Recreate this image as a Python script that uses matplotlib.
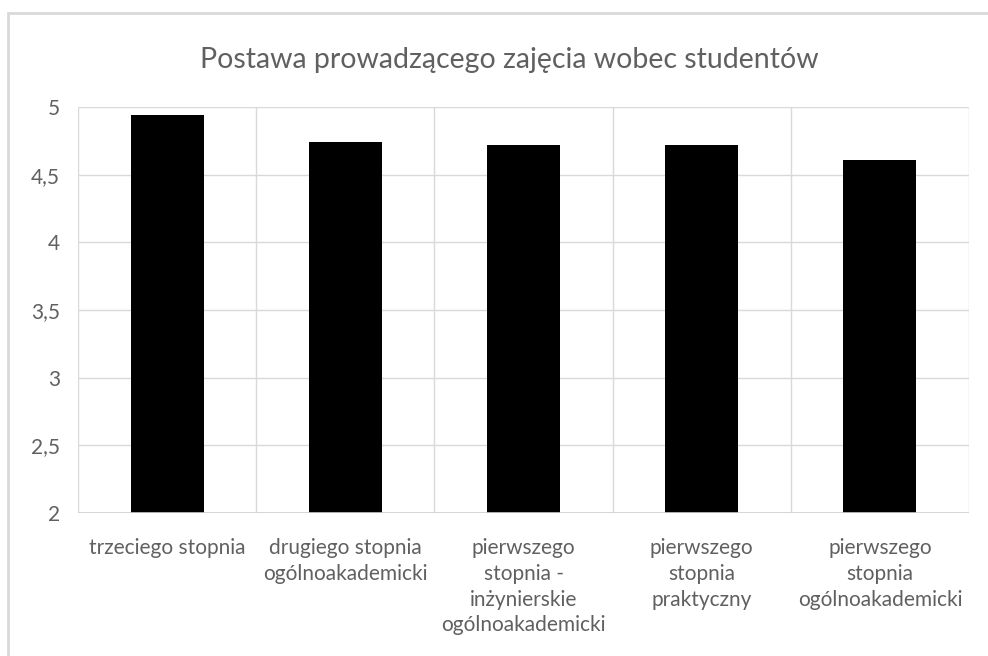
import matplotlib
matplotlib.use("Agg")
import matplotlib.pyplot as plt
from matplotlib.patches import Rectangle

categories = ["trzeciego stopnia",
              "drugiego stopnia\nogólnoakademicki",
              "pierwszego\nstopnia -\ninżynierskie\nogólnoakademicki",
              "pierwszego\nstopnia\npraktyczny",
              "pierwszego\nstopnia\nogólnoakademicki"]
values = [4.94, 4.74, 4.72, 4.72, 4.61]
yticks = [2, 2.5, 3, 3.5, 4, 4.5, 5]
ytick_labels = ["2", "2,5", "3", "3,5", "4", "4,5", "5"]
title = "Postawa prowadzącego zajęcia wobec studentów"

plt.rcParams['font.family'] = ['Lato', 'DejaVu Sans']

W, H = 988, 656
fig = plt.figure(figsize=(W/100, H/100), dpi=100)
# chart border
fig.patches.append(Rectangle((8/W, -0.1), 1.2, (H-13)/H + 0.1, transform=fig.transFigure,
                             fill=False, edgecolor="#d9d9d9", linewidth=2))

left, right, top, bottom = 78, 969, 107, 513
ax = fig.add_axes([left/W, 1-bottom/H, (right-left)/W, (bottom-top)/H])
x = list(range(len(categories)))
ax.bar(x, values, width=0.41, color="black", zorder=3)
ax.set_xlim(-0.5, len(categories)-0.5)
ax.set_ylim(2, 5)
ax.set_yticks(yticks)
ax.set_yticklabels(ytick_labels)
ax.set_xticks(x)
ax.set_xticklabels(categories, linespacing=1.36)
for b in [i + 0.5 for i in range(-1, len(categories))]:
    ax.axvline(b, color="#d9d9d9", linewidth=1, zorder=1)
ax.grid(axis="y", color="#d9d9d9", linewidth=1, zorder=1)
for s in ax.spines.values():
    s.set_visible(False)
ax.axhline(2, color="#d0d0d0", linewidth=1.2, zorder=4)
ax.tick_params(axis="both", length=0, colors="#606060", labelsize=15)
ax.tick_params(axis="y", pad=13)
ax.tick_params(axis="x", pad=18)
fig.text(509/W, 1-60/H, title, ha="center", va="center", fontsize=20.5,
         color="#606060")
fig.savefig("out.png", dpi=100)
